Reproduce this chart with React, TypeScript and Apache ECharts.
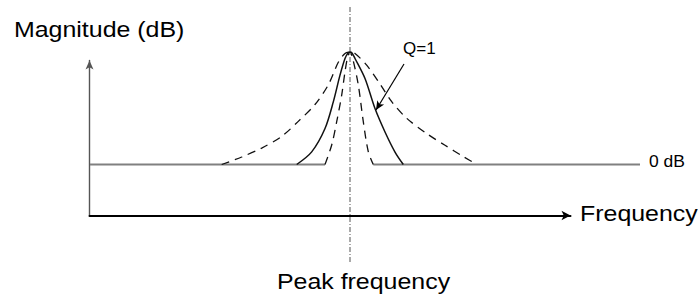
import React, { useEffect, useRef } from "react";
import * as echarts from "echarts";

// x: relative frequency units, y: magnitude in dB
const PEAK_FREQ = 260;
const X_MAX = 550;
const Y_MIN = -10.4;
const Y_MAX = 16.8;

const baselineLeft = [[0, 0], [235, 0]];
const baselineRight = [[283.3, 0], [X_MAX, 0]];

const wideCurve = [
  [131.7, 0], [151.7, 0.8], [171.7, 1.75], [191.7, 3.0], [208.3, 4.6], [225, 6.4],
  [238.3, 8.5], [248.3, 10.9], [255, 11.85], [260, 12], [265, 11.84], [276.7, 10.6],
  [290, 8.6], [301.7, 6.7], [316.7, 4.93], [336.7, 3.3], [355, 2.05], [373.3, 0.85], [386.7, 0],
];
const q1Curve = [
  [206.7, 0], [221.7, 1.35], [235, 3.84], [243.3, 6.68], [250, 9.53], [255, 11.31],
  [258.3, 11.93], [260, 12], [262, 11.9], [265, 11.31], [275, 9.17], [285, 5.97],
  [295, 3.47], [305, 1.33], [313.3, 0],
];
const narrowCurve = [
  [235, 0], [241.7, 2.08], [246.7, 4.57], [251.7, 7.41], [255, 9.9], [257.7, 11.5],
  [260, 12], [262.5, 11.4], [268.3, 8.48], [273.3, 4.57], [278.3, 1.36], [283.3, 0],
];
const peakLine = [[PEAK_FREQ, Y_MIN], [PEAK_FREQ, Y_MAX]];
const qArrowFrom = [314, 10.72];
const qArrowTo = [286, 5.81];

const FONT = "Liberation Sans, Arial, Helvetica, sans-serif";

export default function App() {
  const ref = useRef<HTMLDivElement>(null);
  useEffect(() => {
    if (!ref.current) return;
    const chart = echarts.init(ref.current, undefined, { renderer: "svg" });
    const curveBase = {
      type: "line",
      xAxisIndex: 0,
      yAxisIndex: 0,
      showSymbol: false,
      symbol: "none",
      smooth: 0.3,
      silent: true,
      clip: false,
    };
    const txt = (text: string, x: number, y: number, size: number, align: string, scaleX: number) => ({
      type: "text",
      x,
      y,
      scaleX,
      style: { text, fontSize: size, fontFamily: FONT, fill: "#000", verticalAlign: "middle", align },
    });
    chart.setOption({
      animation: false,
      backgroundColor: "#ffffff",
      grid: [
        { left: 90, top: 7, width: 550, height: 255 },
        { left: 89.5, top: 60.5, width: 481, height: 155 },
      ],
      xAxis: [
        { type: "value", gridIndex: 0, min: 0, max: X_MAX, show: false },
        {
          type: "value", gridIndex: 1, min: 0, max: 1,
          axisLine: { show: true, onZero: false, symbol: ["none", "arrow"], symbolSize: [7, 9], lineStyle: { color: "#000", width: 2 } },
          axisTick: { show: false }, axisLabel: { show: false }, splitLine: { show: false },
        },
      ],
      yAxis: [
        { type: "value", gridIndex: 0, min: Y_MIN, max: Y_MAX, show: false },
        {
          type: "value", gridIndex: 1, min: 0, max: 1,
          axisLine: { show: true, onZero: false, symbol: ["none", "arrow"], symbolSize: [6, 9], lineStyle: { color: "#555", width: 1.4 } },
          axisTick: { show: false }, axisLabel: { show: false }, splitLine: { show: false },
        },
      ],
      series: [
        { ...curveBase, smooth: false, data: baselineLeft, lineStyle: { color: "#808080", width: 2 } },
        { ...curveBase, smooth: false, data: baselineRight, lineStyle: { color: "#808080", width: 2 } },
        { ...curveBase, data: wideCurve, lineStyle: { color: "#111", width: 1.3, type: [8, 6] } },
        { ...curveBase, data: q1Curve, lineStyle: { color: "#111", width: 1.5 } },
        { ...curveBase, data: narrowCurve, lineStyle: { color: "#111", width: 1.3, type: [8, 6] } },
        { ...curveBase, smooth: false, data: peakLine, lineStyle: { color: "#555", width: 1, type: [5, 2, 1, 2] } },
        {
          type: "line", xAxisIndex: 0, yAxisIndex: 0, data: [], silent: true,
          markLine: {
            silent: true, animation: false,
            symbol: ["none", "arrow"], symbolSize: [6, 9],
            label: { show: false },
            lineStyle: { color: "#000", width: 1.2, type: "solid" },
            data: [[{ coord: qArrowFrom }, { coord: qArrowTo }]],
          },
        },
      ],
      graphic: [
        txt("Magnitude (dB)", 14, 30, 21.5, "left", 1.16),
        txt("Frequency", 580, 214, 21.5, "left", 1.16),
        txt("Peak frequency", 363.5, 282, 21.5, "center", 1.16),
        txt("0 dB", 649, 161.5, 16.5, "left", 1.06),
        txt("Q=1", 403, 48.5, 17, "left", 1),
      ],
    });
    return () => chart.dispose();
  }, []);
  return <div ref={ref} style={{ width: 698, height: 296, position: "fixed", left: 0, top: 0 }} />;
}
